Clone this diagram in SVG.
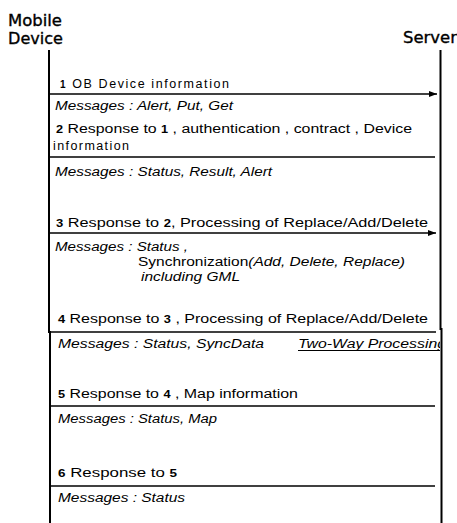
<svg xmlns="http://www.w3.org/2000/svg" width="457" height="523" viewBox="0 0 457 523">
<style>
.hd{font-family:"DejaVu Sans","Liberation Sans",sans-serif;font-size:16px;fill:#000;stroke:#000;stroke-width:0.35}
.t{font-family:"Liberation Sans",Arial,sans-serif;font-size:12.5px;fill:#000}
.i{font-family:"Liberation Sans",Arial,sans-serif;font-size:12.5px;font-style:italic;fill:#000}
.n{font-size:10px;font-weight:bold}
.life{stroke:#000;stroke-width:2;fill:none}
.msg{stroke:#000;stroke-width:1.4;fill:none}
</style>
<defs>
<marker id="ah" viewBox="0 0 8 6" refX="8" refY="3" markerWidth="8" markerHeight="6" markerUnits="userSpaceOnUse" orient="auto">
<path d="M0,0 L8,3 L0,6 Z" fill="#000"/>
</marker>
<clipPath id="cl"><rect x="0" y="0" width="440" height="523"/></clipPath>
</defs>
<rect width="457" height="523" fill="#fff"/>

<g id="mobile-device">
<text class="hd" x="8" y="26" textLength="54" lengthAdjust="spacingAndGlyphs">Mobile</text>
<text class="hd" x="8" y="44" textLength="55" lengthAdjust="spacingAndGlyphs">Device</text>
<path class="life" d="M49,50 V333 M50,331 V523"/>
</g>

<g id="server">
<text class="hd" x="403" y="43" textLength="54" lengthAdjust="spacingAndGlyphs">Server</text>
<path class="life" d="M440.5,50 V330 M441.5,328 V523"/>
</g>

<g id="connectors">
<line class="msg" x1="49" y1="94" x2="437" y2="94" marker-end="url(#ah)"/>
<line class="msg" x1="49" y1="157" x2="435" y2="157"/>
<line class="msg" x1="49" y1="233" x2="436" y2="233" marker-end="url(#ah)"/>
<line class="msg" x1="49" y1="332" x2="436" y2="332"/>
<line class="msg" x1="50" y1="406" x2="435" y2="406"/>
<line class="msg" x1="50" y1="486" x2="435" y2="486"/>
</g>

<g id="labels">
<text class="t" x="60" y="88" textLength="169" lengthAdjust="spacing"><tspan class="n">1</tspan>  OB Device information</text>
<text class="i" x="55" y="110" textLength="178" lengthAdjust="spacingAndGlyphs">Messages : Alert, Put, Get</text>

<text class="t" x="56" y="133" textLength="356" lengthAdjust="spacingAndGlyphs"><tspan class="n">2</tspan>  Response to  <tspan class="n">1</tspan> , authentication ,  contract ,  Device</text>
<text class="t" x="53" y="150" textLength="76" lengthAdjust="spacing">information</text>
<text class="i" x="55" y="176" textLength="217" lengthAdjust="spacingAndGlyphs">Messages : Status, Result, Alert</text>

<text class="t" x="56" y="227" textLength="372" lengthAdjust="spacingAndGlyphs"><tspan class="n">3</tspan> Response to  <tspan class="n">2</tspan>, Processing of Replace/Add/Delete</text>
<text class="i" x="55" y="251" textLength="133" lengthAdjust="spacingAndGlyphs">Messages : Status ,</text>
<text class="t" x="138" y="266" textLength="267" lengthAdjust="spacingAndGlyphs">Synchronization<tspan font-style="italic">(Add, Delete, Replace)</tspan></text>
<text class="i" x="141" y="281" textLength="99" lengthAdjust="spacingAndGlyphs">including GML</text>

<text class="t" x="58" y="323" textLength="370" lengthAdjust="spacingAndGlyphs"><tspan class="n">4</tspan> Response to  <tspan class="n">3</tspan> , Processing of Replace/Add/Delete</text>
<text class="i" x="58" y="348" textLength="206" lengthAdjust="spacingAndGlyphs">Messages : Status, SyncData</text>
<g clip-path="url(#cl)">
<text class="i" x="298" y="348" textLength="148" lengthAdjust="spacingAndGlyphs">Two-Way Processing</text>
<line x1="298" y1="350.5" x2="440" y2="350.5" stroke="#000" stroke-width="1"/>
</g>

<text class="t" x="58" y="398" textLength="240" lengthAdjust="spacingAndGlyphs"><tspan class="n">5</tspan> Response to  <tspan class="n">4</tspan> , Map information</text>
<text class="i" x="58" y="423" textLength="159" lengthAdjust="spacingAndGlyphs">Messages : Status, Map</text>

<text class="t" x="58" y="477" textLength="119" lengthAdjust="spacingAndGlyphs"><tspan class="n">6</tspan> Response to  <tspan class="n">5</tspan></text>
<text class="i" x="58" y="502" textLength="127" lengthAdjust="spacingAndGlyphs">Messages : Status</text>
</g>
</svg>
